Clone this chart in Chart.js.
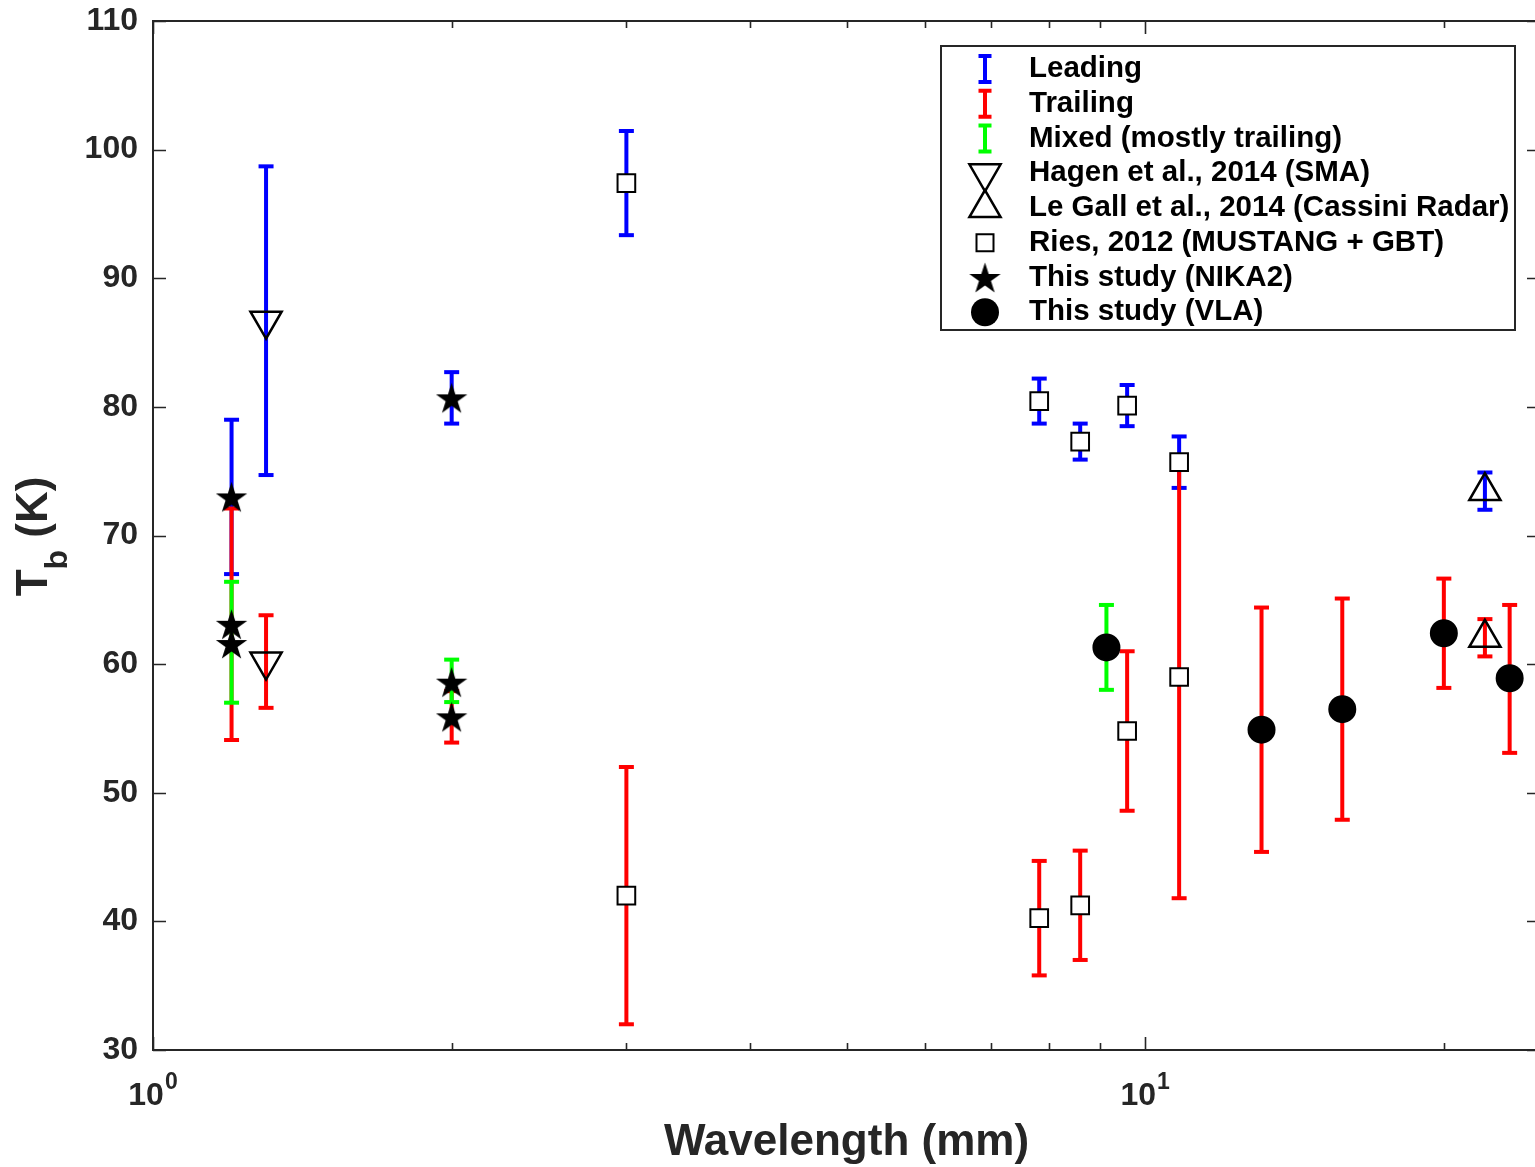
<!DOCTYPE html>
<html lang="en">
<head>
<meta charset="UTF-8">
<title>Brightness temperature vs wavelength</title>
<script src="https://cdn.jsdelivr.net/npm/chart.js"></script>
<style>
    body {
        margin: 0;
        padding: 0;
        background: #ffffff;
        overflow: hidden;
    }
    #wrap {
        position: relative;
        width: 1540px;
        height: 1167px;
    }
</style>
</head>
<body>
<div id="wrap"><canvas id="tbChart" width="1540" height="1167"></canvas></div>
<script>
    // ---- values: wavelength (mm), Tb (K), half error (K) ----
    const leadX = [1.2, 1.3, 2.0, 3.0, 7.82, 8.6, 9.59, 10.82, 22];
    const leadT = [73, 86.7, 80.7, 97.4, 80.45, 77.3, 80.1, 75.7, 73.45];
    const leadE = [6, 12, 2, 4.05, 1.75, 1.4, 1.6, 2, 1.45];

    const trailX = [1.2, 1.3, 2.0, 3.0, 7.82, 8.6, 9.59, 10.82, 13.1, 15.8, 20, 22, 23.3];
    const trailT = [63.1, 60.2, 55.9, 42, 40.25, 41.25, 54.8, 59, 54.9, 56.5, 62.4, 62.05, 58.85];
    const trailE = [9, 3.6, 2, 10, 4.45, 4.25, 6.2, 17.2, 9.5, 8.6, 4.25, 1.45, 5.75];

    const mixedX = [1.2, 2.0, 9.14];
    const mixedT = [61.7, 58.7, 61.3];
    const mixedE = [4.7, 1.65, 3.3];

    // markers
    const hagenX = [1.3, 1.3];
    const hagenT = [86.7, 60.2];
    const legallX = [22, 22];
    const legallT = [73.45, 62.05];
    const riesX = [3.0, 3.0, 7.82, 7.82, 8.6, 8.6, 9.59, 9.59, 10.82, 10.82];
    const riesT = [97.4, 42, 80.45, 40.25, 77.3, 41.25, 80.1, 54.8, 75.7, 59];
    const nikaX = [1.2, 1.2, 1.2, 2.0, 2.0, 2.0];
    const nikaT = [73, 63.1, 61.6, 80.7, 58.6, 55.9];
    const vlaX = [9.14, 13.1, 15.8, 20, 23.3];
    const vlaT = [61.3, 54.9, 56.5, 62.4, 58.9];

    // axes / labels
    const yMin = 30, yMax = 110, yStep = 10;
    const xMin = 1, xMax = 25;
    const xMajor = [1, 10];
    const xMajorExp = ['0', '1'];
    const xTitle = 'Wavelength (mm)';
    const yTitleMain = 'T', yTitleSub = 'b', yTitleRest = ' (K)';
    const legendLabels = [
        'Leading',
        'Trailing',
        'Mixed (mostly trailing)',
        'Hagen et al., 2014 (SMA)',
        'Le Gall et al., 2014 (Cassini Radar)',
        'Ries, 2012 (MUSTANG + GBT)',
        'This study (NIKA2)',
        'This study (VLA)'
    ];

    const FONT = '"Liberation Sans", Arial, Helvetica, sans-serif';
    const AXIS = '#262626';
    const BLUE = '#0000ff', RED = '#ff0000', GREEN = '#00ff00';

    function toPoints(xs, ys) {
        return xs.map((x, i) => ({ x: x, y: ys[i] }));
    }

    // each error bar is two points (low, high) followed by a gap
    function errorBarPoints(xs, ts, es) {
        const pts = [];
        xs.forEach((x, i) => {
            pts.push({ x: x, y: ts[i] - es[i] });
            pts.push({ x: x, y: ts[i] + es[i] });
            pts.push({ x: x, y: null });
        });
        return pts;
    }

    // filled five-point star (pentagram marker)
    function makeStar(size) {
        const c = document.createElement('canvas');
        c.width = size;
        c.height = size;
        const g = c.getContext('2d');
        const R = size / 2 - 1, r = R * 0.382;
        const cx = size / 2, cy = size / 2 + R * 0.0955;
        g.beginPath();
        for (let i = 0; i < 10; i++) {
            const rad = i % 2 === 0 ? R : r;
            const a = -Math.PI / 2 + i * Math.PI / 5;
            g.lineTo(cx + rad * Math.cos(a), cy + rad * Math.sin(a));
        }
        g.closePath();
        g.fillStyle = '#000000';
        g.fill();
        return c;
    }
    const starImg = makeStar(35);

    function barSet(label, color, pts, order) {
        return {
            label: label,
            data: pts,
            showLine: true,
            spanGaps: false,
            borderColor: color,
            borderWidth: 4,
            pointStyle: 'line',
            pointRadius: 7.5,
            pointHoverRadius: 7.5,
            pointBorderColor: color,
            pointBorderWidth: 4,
            order: order
        };
    }

    function markerSet(label, pts, style, extra) {
        return Object.assign({
            label: label,
            data: pts,
            showLine: false,
            pointStyle: style,
            pointBorderColor: '#000000',
            pointBackgroundColor: 'rgba(0,0,0,0)',
            pointBorderWidth: 2.5,
            order: 0
        }, extra);
    }

    // no extra room around the axes: the plot box is fixed by afterFit + layout padding
    function noPadding(s) {
        s.paddingTop = 0;
        s.paddingBottom = 0;
        s.paddingLeft = 0;
        s.paddingRight = 0;
    }

    // legend icon drawing
    function drawTriangle(ctx, x, y, r, down) {
        const s = down ? -1 : 1;
        ctx.beginPath();
        ctx.moveTo(x, y - s * r);
        ctx.lineTo(x + r * Math.sin(Math.PI / 3), y + s * r / 2);
        ctx.lineTo(x - r * Math.sin(Math.PI / 3), y + s * r / 2);
        ctx.closePath();
        ctx.stroke();
    }

    const framePlugin = {
        id: 'matlabFrame',
        afterDraw(chart) {
            const { ctx, chartArea: a, scales } = chart;
            const x = scales.x, y = scales.y;
            ctx.save();

            // top and right edges of the box
            ctx.strokeStyle = AXIS;
            ctx.lineWidth = 2;
            ctx.beginPath();
            ctx.moveTo(a.left, a.top);
            ctx.lineTo(a.right, a.top);
            ctx.lineTo(a.right, a.bottom);
            ctx.stroke();

            // inward ticks
            ctx.lineWidth = 1.6;
            ctx.beginPath();
            for (let v = yMin; v <= yMax; v += yStep) {
                const py = Math.round(y.getPixelForValue(v)) + 0.5;
                ctx.moveTo(a.left, py); ctx.lineTo(a.left + 13, py);
                ctx.moveTo(a.right, py); ctx.lineTo(a.right - 13, py);
            }
            for (let d = 1; d <= 10; d *= 10) {
                for (let m = 1; m <= 9; m++) {
                    const v = m * d;
                    if (v < xMin || v > xMax) continue;
                    const len = m === 1 ? 13 : 7;
                    const px = Math.round(x.getPixelForValue(v)) + 0.5;
                    ctx.moveTo(px, a.bottom); ctx.lineTo(px, a.bottom - len);
                    ctx.moveTo(px, a.top); ctx.lineTo(px, a.top + len);
                }
            }
            ctx.stroke();

            // x tick labels 10^0, 10^1
            ctx.fillStyle = AXIS;
            ctx.textAlign = 'left';
            ctx.textBaseline = 'alphabetic';
            xMajor.forEach((v, i) => {
                const px = x.getPixelForValue(v);
                ctx.font = 'bold 32px ' + FONT;
                const w1 = ctx.measureText('10').width;
                ctx.font = 'bold 23px ' + FONT;
                const w2 = ctx.measureText(xMajorExp[i]).width;
                const left = px - (w1 + w2 + 1) / 2;
                ctx.font = 'bold 32px ' + FONT;
                ctx.fillText('10', left, a.bottom + 55);
                ctx.font = 'bold 23px ' + FONT;
                ctx.fillText(xMajorExp[i], left + w1 + 1, a.bottom + 39);
            });

            // x axis title
            ctx.font = 'bold 44px ' + FONT;
            ctx.textAlign = 'center';
            ctx.fillText(xTitle, (a.left + a.right) / 2, a.bottom + 105);

            // y axis title with subscript
            ctx.save();
            ctx.translate(47, (a.top + a.bottom) / 2 + 1);
            ctx.rotate(-Math.PI / 2);
            ctx.textAlign = 'left';
            ctx.font = 'bold 44px ' + FONT;
            const wT = ctx.measureText(yTitleMain).width;
            const wR = ctx.measureText(yTitleRest).width;
            ctx.font = 'bold 32px ' + FONT;
            const wB = ctx.measureText(yTitleSub).width;
            let cx = -(wT + wB + wR) / 2;
            ctx.font = 'bold 44px ' + FONT;
            ctx.fillText(yTitleMain, cx, 0);
            cx += wT;
            ctx.font = 'bold 32px ' + FONT;
            ctx.fillText(yTitleSub, cx, 20);
            cx += wB;
            ctx.font = 'bold 44px ' + FONT;
            ctx.fillText(yTitleRest, cx, 0);
            ctx.restore();

            // legend box
            const bx = a.right - 599, by = a.top + 25, bw = 574, bh = 284;
            ctx.fillStyle = '#ffffff';
            ctx.fillRect(bx, by, bw, bh);
            ctx.strokeStyle = AXIS;
            ctx.lineWidth = 2;
            ctx.strokeRect(bx, by, bw, bh);

            const ix = bx + 44, tx = bx + 88;
            legendLabels.forEach((label, i) => {
                const cy = by + 23 + i * 34.75;
                ctx.save();
                if (i < 3) {
                    const col = [BLUE, RED, GREEN][i];
                    ctx.strokeStyle = col;
                    ctx.lineWidth = 4;
                    ctx.beginPath();
                    ctx.moveTo(ix, cy - 13); ctx.lineTo(ix, cy + 13);
                    ctx.moveTo(ix - 6.5, cy - 13); ctx.lineTo(ix + 6.5, cy - 13);
                    ctx.moveTo(ix - 6.5, cy + 13); ctx.lineTo(ix + 6.5, cy + 13);
                    ctx.stroke();
                } else if (i === 3 || i === 4) {
                    ctx.strokeStyle = '#000000';
                    ctx.lineWidth = 2.5;
                    drawTriangle(ctx, ix, cy, 18, i === 3);
                } else if (i === 5) {
                    ctx.strokeStyle = '#000000';
                    ctx.lineWidth = 2;
                    ctx.strokeRect(ix - 8.5, cy - 8.5, 17, 17);
                } else if (i === 6) {
                    ctx.drawImage(starImg, ix - starImg.width / 2, cy - starImg.height / 2);
                } else {
                    ctx.fillStyle = '#000000';
                    ctx.beginPath();
                    ctx.arc(ix, cy, 14, 0, Math.PI * 2);
                    ctx.fill();
                }
                ctx.restore();
                ctx.fillStyle = '#000000';
                ctx.font = 'bold 29.5px ' + FONT;
                ctx.textAlign = 'left';
                ctx.textBaseline = 'middle';
                ctx.fillText(label, tx, cy);
            });

            ctx.restore();
        }
    };

    const ctx = document.getElementById('tbChart').getContext('2d');
    new Chart(ctx, {
        type: 'scatter',
        data: {
            datasets: [
                markerSet('Hagen et al., 2014 (SMA)', toPoints(hagenX, hagenT), 'triangle', { pointRadius: 18, pointRotation: 180 }),
                markerSet('Le Gall et al., 2014 (Cassini Radar)', toPoints(legallX, legallT), 'triangle', { pointRadius: 18 }),
                markerSet('Ries, 2012 (MUSTANG + GBT)', toPoints(riesX, riesT), 'rect', { pointRadius: 12.5, pointBorderWidth: 2, pointBackgroundColor: '#ffffff' }),
                markerSet('This study (NIKA2)', toPoints(nikaX, nikaT), starImg, { pointRadius: 15 }),
                markerSet('This study (VLA)', toPoints(vlaX, vlaT), 'circle', { pointRadius: 13, pointBorderWidth: 2, pointBackgroundColor: '#000000' }),
                barSet('Mixed (mostly trailing)', GREEN, errorBarPoints(mixedX, mixedT, mixedE), 1),
                barSet('Trailing', RED, errorBarPoints(trailX, trailT, trailE), 2),
                barSet('Leading', BLUE, errorBarPoints(leadX, leadT, leadE), 3)
            ]
        },
        options: {
            responsive: false,
            animation: false,
            devicePixelRatio: 1,
            events: [],
            layout: { autoPadding: false, padding: { top: 21, right: 0, bottom: 0, left: 0 } },
            plugins: {
                legend: { display: false },
                tooltip: { enabled: false }
            },
            scales: {
                x: {
                    type: 'logarithmic',
                    min: xMin,
                    max: xMax,
                    ticks: { display: false },
                    grid: { display: false, drawTicks: false },
                    border: { display: true, color: AXIS, width: 2 },
                    afterFit: s => { s.height = 117; noPadding(s); }
                },
                y: {
                    type: 'linear',
                    min: yMin,
                    max: yMax,
                    ticks: {
                        stepSize: yStep,
                        padding: 15,
                        color: AXIS,
                        font: { family: FONT, size: 32, weight: 'bold' }
                    },
                    grid: { display: false, drawTicks: false },
                    border: { display: true, color: AXIS, width: 2 },
                    afterFit: s => { s.width = 153; noPadding(s); }
                }
            }
        },
        plugins: [framePlugin]
    });
</script>
</body>
</html>
